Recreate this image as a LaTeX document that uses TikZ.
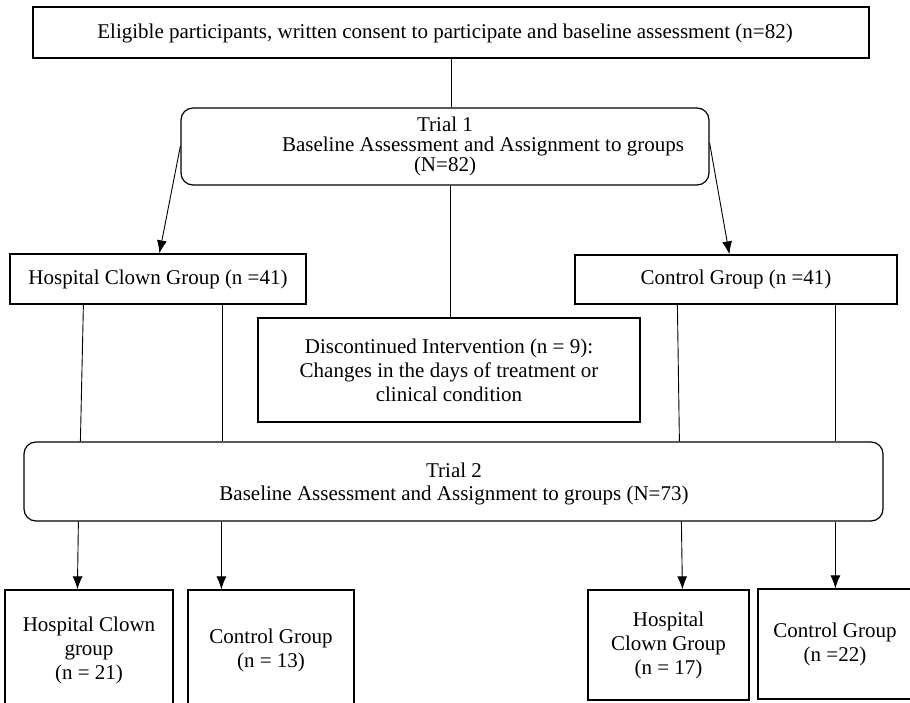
\documentclass[tikz,border=0pt]{standalone}
\usepackage{fontspec}
\setmainfont{Liberation Serif}
\usetikzlibrary{arrows.meta}
\begin{document}
\begin{tikzpicture}[x=1pt,y=-1pt,
  box/.style={draw,line width=1.2pt,rectangle,inner sep=0pt,align=center,font=\fontsize{21}{24}\selectfont},
  rbox/.style={box,rounded corners=12pt},
  txt/.style={inner sep=0pt,align=center,font=\fontsize{21}{20}\selectfont},
  conn/.style={line width=0.9pt},
  arr/.style={conn,-{Latex[length=13pt,width=10pt]}}]
\useasboundingbox[fill=white] (0,0) rectangle (910,703);
\node[box,minimum width=836pt,minimum height=51pt] (top) at (451,32.5) {};
\node[txt] (toptxt) at (445,33) {Eligible participants, written consent to participate and baseline assessment (n=82)};
\node[rbox,minimum width=528pt,minimum height=77pt] (t1) at (445,146.5) {};
\node[txt] (t1txt) at (445,146.5) {Trial 1\\\hspace*{76pt}Baseline Assessment and Assignment to groups\\(N=82)};
\node[box,minimum width=296pt,minimum height=50pt] (hc1) at (158,279) {Hospital Clown Group (n =41)};
\node[box,minimum width=322pt,minimum height=49pt] (cg1) at (736,279.5) {Control Group (n =41)};
\node[box,minimum width=382pt,minimum height=104pt] (disc) at (449,370)
  {Discontinued Intervention (n = 9):\\Changes in the days of treatment or\\clinical condition};
\node[rbox,minimum width=859pt,minimum height=79pt] (t2) at (453.5,481.5) {};
\node[txt,font=\fontsize{21}{23}\selectfont] (t2txt) at (454,484)
  {Trial 2\\Baseline Assessment and Assignment to groups (N=73)};
\node[box,minimum width=168pt,minimum height=120pt] (b1) at (89,650) {Hospital Clown\\group\\(n = 21)};
\node[box,minimum width=166pt,minimum height=120pt] (b2) at (271,650) {Control Group\\(n = 13)};
\node[box,minimum width=161pt,minimum height=110pt] (b3) at (668.5,645) {Hospital\\Clown Group\\(n = 17)};
\node[box,minimum width=154pt,minimum height=110pt] (b4) at (835,644) {Control Group\\(n =22)};
% connectors
\draw[conn] (top.south) -- (top.south |- t1.north);
\draw[arr] ([yshift=0.5pt]t1.west) -- ([xshift=150pt]hc1.north west);
\draw[arr] ([yshift=3.5pt]t1.east) -- ([xshift=155pt]cg1.north west);
\draw[conn] ([xshift=5pt]t1.south) -- ([xshift=1pt]disc.north);
\draw[conn] ([xshift=74pt]hc1.south west) -- ([xshift=57pt]t2.north west);
\draw[conn] ([xshift=213pt]hc1.south west) -- ([xshift=199pt]t2.north west);
\draw[conn] ([xshift=103pt]cg1.south west) -- ([xshift=656pt]t2.north west);
\draw[conn] ([xshift=261pt]cg1.south west) -- ([xshift=812pt]t2.north west);
\draw[arr] ([xshift=55pt]t2.south west) -- ([xshift=73pt]b1.north west);
\draw[arr] ([xshift=198pt]t2.south west) -- ([xshift=34pt]b2.north west);
\draw[arr] ([xshift=658pt]t2.south west) -- ([xshift=95pt]b3.north west);
\draw[arr] ([xshift=812pt]t2.south west) -- ([xshift=78pt]b4.north west);
\end{tikzpicture}
\end{document}
